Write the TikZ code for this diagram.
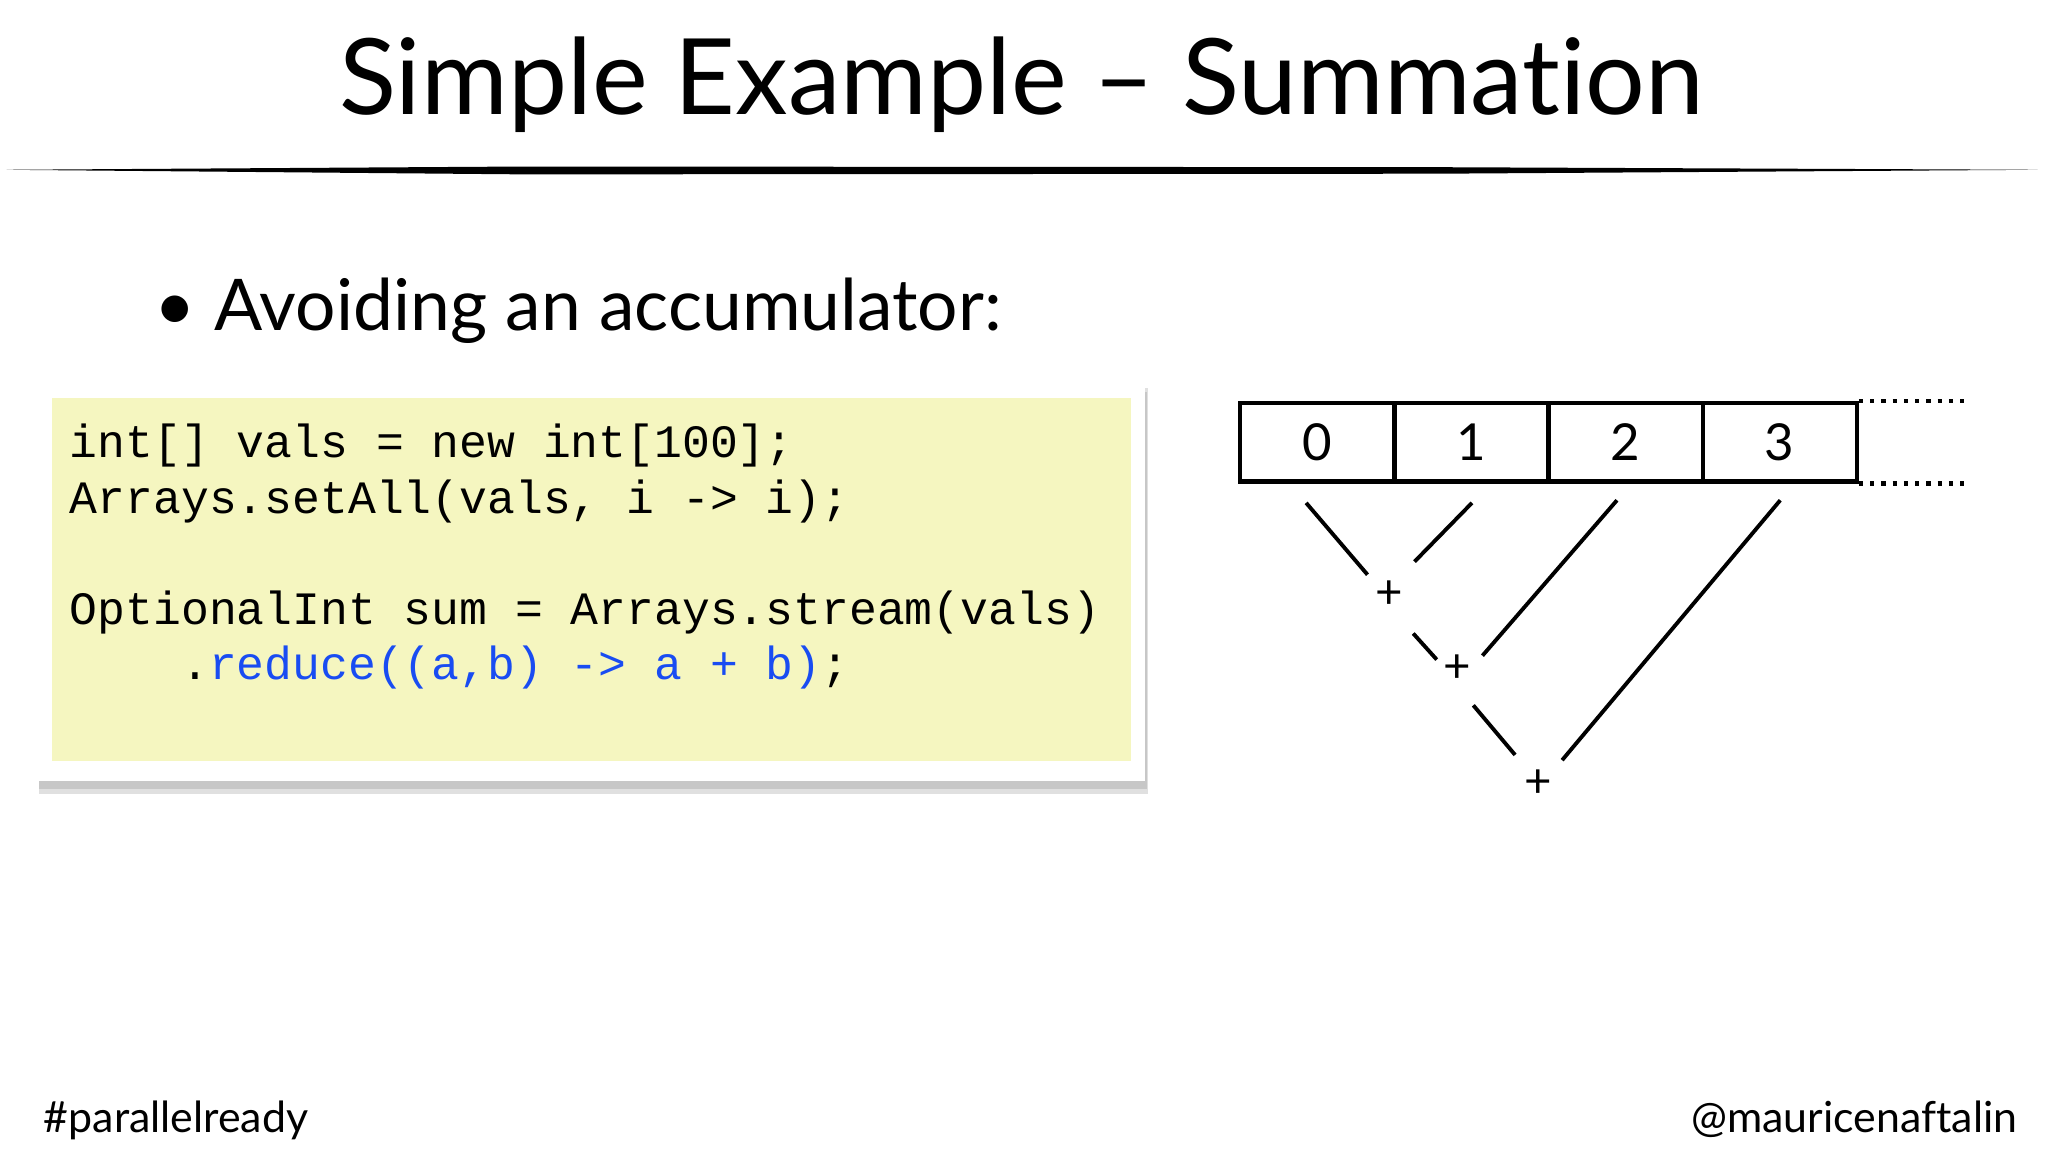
\documentclass[tikz,border=0pt]{standalone}
\usepackage{fontspec}
\setmainfont{Lato}[Ligatures={NoCommon}]
\newfontfamily\codefont{Liberation Mono}
\begin{document}
\begin{tikzpicture}[x=0.013061cm,y=-0.013061cm,
  cell/.style={draw,line width=1.2pt,minimum width=118*0.013061cm,minimum height=60*0.013061cm,inner sep=0,anchor=north west,font=\fontsize{14.5}{16}\selectfont},
  plus/.style={font=\fontsize{13.5}{15}\selectfont,inner sep=1pt},
  edge/.style={line width=1.1pt},
  code/.style={anchor=base west,inner sep=0,font=\codefont\fontsize{13.2}{15}\selectfont}]
\useasboundingbox[fill=white] (0,0) rectangle (1568,882);
\node[font=\fontsize{30}{34}\selectfont] (title) at (782,65) {Simple Example -- Summation};
\fill[black] (5,130) -- (400,127.5) -- (1100,128) -- (1560,130) -- (1100,133) -- (400,133.5) -- cycle;
\node[anchor=base west,inner sep=0,font=\fontsize{20.3}{24}\selectfont] (bul) at (118,253) {\textbullet\ Avoiding an accumulator:};
% code box
\fill[black!12] (30,297) rectangle (879,608);
\fill[black!22] (30,300) rectangle (878,604);
\fill[white] (30,297) rectangle (877,598);
\fill[fill={rgb,255:red,245;green,246;blue,192}] (40,305) rectangle (866,583);
\node[code] (c1) at (53,350) {int[] vals = new int[100];};
\node[code] (c2) at (53,393) {Arrays.setAll(vals, i -> i);};
\node[code] (c3) at (53,478) {OptionalInt sum = Arrays.stream(vals)};
\node[code] (c4) at (53,520) {\phantom{abcd}.\textcolor[rgb]{0.1,0.3,0.95}{reduce((a,b) -> a + b)};};
% array
\node[cell] (a0) at (948,307) {0};
\node[cell] (a1) at (1066,307) {1};
\node[cell] (a2) at (1184,307) {2};
\node[cell] (a3) at (1302,307) {3};
\draw[dotted,line width=1.2pt] (a3.north east) -- ++(85,0);
\draw[dotted,line width=1.2pt] (a3.south east) -- ++(85,0);
\node[plus] (p1) at (1064,455) {+};
\node[plus] (p2) at (1116,512) {+};
\node[plus] (p3) at (1178,600) {+};
\coordinate (e0) at (1000,385);
\coordinate (e1) at (1127,385);
\coordinate (e2) at (1238,383);
\coordinate (e3) at (1363,383);
\draw[edge] (e0) -- (1047,440);
\draw[edge] (e1) -- (1083,430);
\draw[edge] (1082,485) -- (1100,505);
\draw[edge] (e2) -- (1135,502);
\draw[edge] (1128,540) -- (1160,578);
\draw[edge] (e3) -- (1196,582);
\node[anchor=base west,inner sep=0,font=\fontsize{12.2}{14}\selectfont] (tag) at (33,867) {\#parallelready};
\node[anchor=base east,inner sep=0,font=\fontsize{12.2}{14}\selectfont] (who) at (1545,867) {@mauricenaftalin};
\end{tikzpicture}
\end{document}
